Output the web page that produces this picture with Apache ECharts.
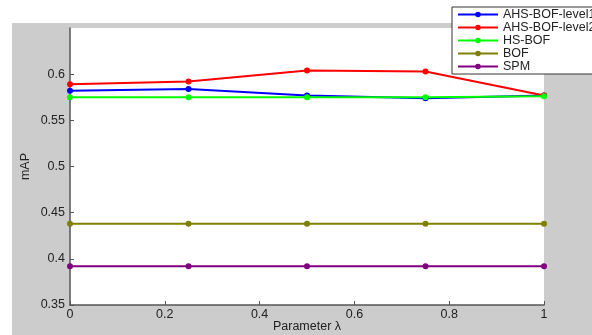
<!DOCTYPE html>
<html><head><meta charset="utf-8">
<script src="https://cdn.jsdelivr.net/npm/echarts@6/dist/echarts.min.js"></script>
<style>html,body{margin:0;padding:0;background:#fff}#c{width:592px;height:335px}</style>
</head><body><div id="c"></div>
<script>
const lambdas = [0, 0.25, 0.5, 0.75, 1];
const ahsLevel1 = [0.582, 0.584, 0.577, 0.574, 0.577];
const ahsLevel2 = [0.589, 0.592, 0.604, 0.603, 0.577];
const hsBof = [0.575, 0.575, 0.575, 0.575, 0.576];
const bof = [0.438, 0.438, 0.438, 0.438, 0.438];
const spm = [0.392, 0.392, 0.392, 0.392, 0.392];
const seriesNames = ['AHS-BOF-level1', 'AHS-BOF-level2', 'HS-BOF', 'BOF', 'SPM'];
const seriesColors = ['#0000ff', '#ff0000', '#00ff00', '#808000', '#800080'];
const seriesValues = [ahsLevel1, ahsLevel2, hsBof, bof, spm];
const yTickValues = [0.35, 0.4, 0.45, 0.5, 0.55, 0.6];
const yTickLabels = ['0.35', '0.4', '0.45', '0.5', '0.55', '0.6'];

const chart = echarts.init(document.getElementById('c'));
const font = 'Liberation Sans, Arial, sans-serif';
chart.setOption({
  animation: false,
  backgroundColor: '#fff',
  graphic: [{type: 'rect', z: -10, silent: true, shape: {x: 12, y: 23, width: 580, height: 312}, style: {fill: '#cccccc'}}],
  grid: {left: 70, right: 48, top: 28, bottom: 30, show: true, backgroundColor: '#ffffff', borderWidth: 0,
         containLabel: false, outerBoundsMode: 'none'},
  legend: {
    orient: 'vertical', left: 452, top: 7,
    backgroundColor: '#ffffff', borderColor: '#333', borderWidth: 1,
    padding: [1, 4, 1, 5],
    itemWidth: 40, itemHeight: 7, itemGap: 0,
    textStyle: {fontFamily: font, fontSize: 12.5, color: '#222', lineHeight: 12.4},
    data: seriesNames
  },
  xAxis: {
    type: 'value', min: 0, max: 1, interval: 0.2,
    name: 'Parameter λ', nameLocation: 'middle', nameGap: 15, nameMoveOverlap: false,
    nameTextStyle: {fontFamily: font, fontSize: 12.5, color: '#222'},
    axisLine: {lineStyle: {color: '#555', width: 1.5}},
    axisTick: {inside: true, length: 4, lineStyle: {color: '#555'}},
    axisLabel: {fontFamily: font, fontSize: 12.5, color: '#222', margin: 3},
    splitLine: {show: false}
  },
  yAxis: {
    type: 'value', min: 0.35, max: 0.65, interval: 0.05,
    name: 'mAP', nameLocation: 'middle', nameGap: 38, nameMoveOverlap: false,
    nameTextStyle: {fontFamily: font, fontSize: 12.5, color: '#222'},
    axisLine: {show: true, lineStyle: {color: '#555', width: 1.5}},
    axisTick: {inside: true, length: 4, customValues: yTickValues, lineStyle: {color: '#555'}},
    axisLabel: {
      fontFamily: font, fontSize: 12.5, color: '#222', margin: 5,
      customValues: yTickValues,
      formatter: function (v) {
        const i = Math.round((v - 0.35) / 0.05);
        return i < yTickLabels.length ? yTickLabels[i] : '';
      }
    },
    splitLine: {show: false}
  },
  series: seriesNames.map(function (n, i) {
    return {
      name: n, type: 'line',
      data: lambdas.map(function (x, j) { return [x, seriesValues[i][j]]; }),
      symbol: 'circle', symbolSize: 6,
      itemStyle: {color: seriesColors[i]},
      lineStyle: {color: seriesColors[i], width: 2}
    };
  })
});
</script></body></html>
